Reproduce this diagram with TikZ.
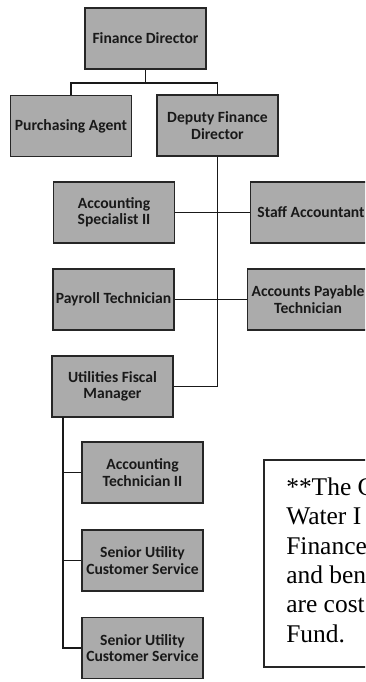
\documentclass[tikz,border=0pt]{standalone}
\usepackage{fontspec}
\setmainfont{Carlito}
\newfontfamily\notefont{Liberation Serif}
\begin{document}
\begin{tikzpicture}[x=0.75pt,y=-0.75pt,
  posbox/.style={draw=black!85, line width=1.1pt, fill=black!33,
    minimum width=90.75pt, minimum height=45.75pt, inner sep=1pt,
    align=center, text=black!90,
    font=\fontsize{11.7}{12.3}\selectfont\bfseries},
  link/.style={draw=black!90, line width=1.1pt}]
\useasboundingbox (0,0) rectangle (365,682);
\clip (0,0) rectangle (365,682);

% positions
\node[posbox] (fd)   at (145.5,38.5)  {Finance Director};
\node[posbox] (pa)   at (71,126)      {Purchasing Agent};
\node[posbox] (dfd)  at (217.5,125.5) {Deputy Finance\\Director};
\node[posbox] (asii) at (114,212.5)   {Accounting\\Specialist II};
\node[posbox] (sa)   at (311,212.5)   {Staff Accountant};
\node[posbox] (pt)   at (113.5,299.5) {Payroll Technician};
\node[posbox] (apt)  at (308,299.5)   {Accounts Payable\\Technician};
\node[posbox] (ufm)  at (112.5,386.5) {Utilities Fiscal\\Manager};
\node[posbox] (atii) at (142.5,472.5) {Accounting\\Technician II};
\node[posbox] (sucs1) at (142.5,560.5) {Senior Utility\\Customer Service};
\node[posbox] (sucs2) at (142.5,648)  {Senior Utility\\Customer Service};

% reporting lines
\coordinate (bus) at (145.5,83);
\draw[link] (fd.south) -- (bus) -| (pa.north);
\draw[link] (bus) -| (dfd.north);
\draw[link] (dfd.south) |- (ufm.east);
\draw[link] (asii.east) -- (sa.west);
\draw[link] (pt.east) -- (apt.west);
\coordinate (trunk) at (63,417);
\draw[link] (trunk) |- (atii.west);
\draw[link] (trunk) |- (sucs1.west);
\draw[link] (trunk) |- (sucs2.west);

% note (anchored on the baseline of its last line)
\draw[draw=black!85, line width=0.8pt] (264,460) rectangle (420,667);
\node[anchor=base west, inner sep=0pt, align=left,
      font=\notefont\fontsize{19.1}{22}\selectfont]
  (note) at (286,642) {**The C\\Water I\\Finance\\and ben\\are cost\\Fund.};
\end{tikzpicture}
\end{document}
